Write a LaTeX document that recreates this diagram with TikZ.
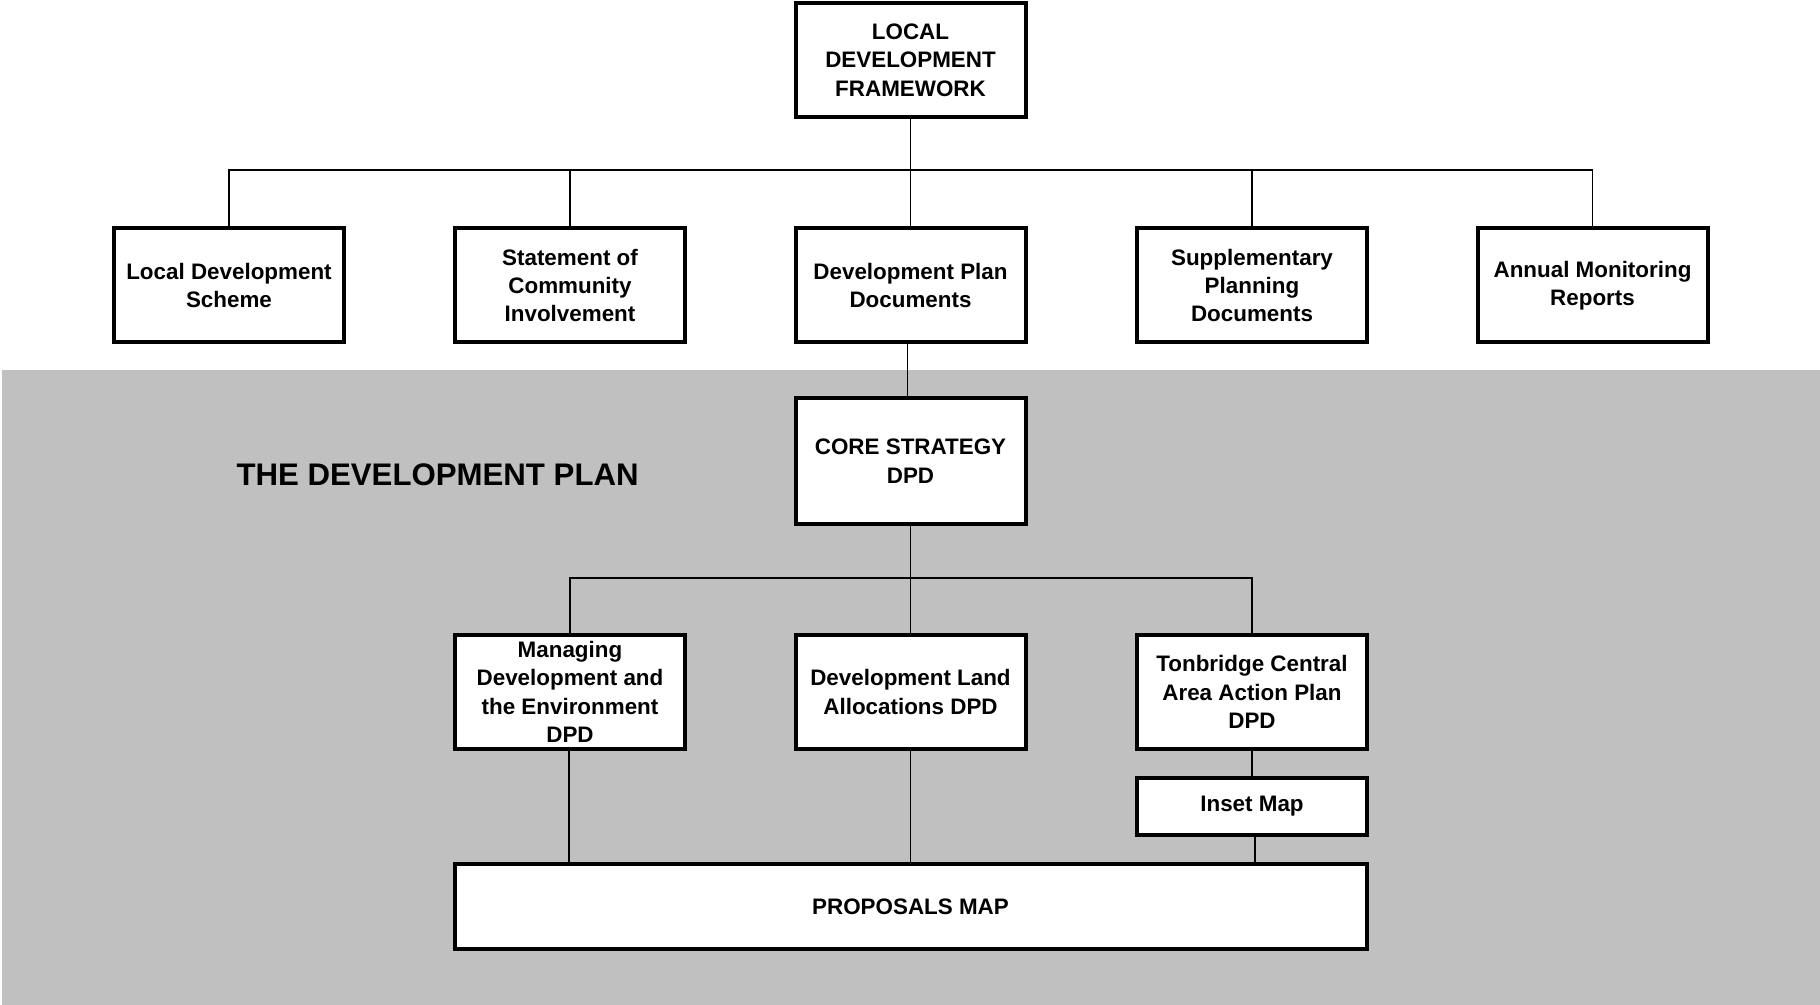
\documentclass[tikz,border=0pt]{standalone}
\usepackage{fontspec}
\setmainfont{Liberation Sans}
\begin{document}
\begin{tikzpicture}[x=0.5pt,y=-0.5pt,
  box/.style={draw=black, line width=2pt, fill=white, inner sep=0pt, align=center,
    minimum width=115pt, minimum height=57pt,
    font=\fontsize{11.2}{14.2}\selectfont\bfseries},
  conn/.style={draw=black, line width=0.7pt}]
\useasboundingbox (0,0) rectangle (1820,1005);
\fill[white] (0,0) rectangle (1820,1005);
\fill[fill={rgb,255:red,192;green,192;blue,192}] (2,370) rectangle (1820,1005);

\node[box] (ldf) at (910.5,60) {LOCAL\\DEVELOPMENT\\FRAMEWORK};

\node[box] (lds) at (229,285.5) {Local Development\\Scheme};
\node[box] (sci) at (570,285.5) {Statement of\\Community\\Involvement};
\node[box] (dpd) at (910.5,285.5) {Development Plan\\Documents};
\node[box] (spd) at (1252,285.5) {Supplementary\\Planning\\Documents};
\node[box] (amr) at (1592.5,285.5) {Annual Monitoring\\Reports};

\node[box, minimum height=62.5pt] (core) at (910.5,461) {CORE STRATEGY\\DPD};

\node[font=\fontsize{15.6}{18}\selectfont\bfseries] (title) at (437.6,474.5) {THE DEVELOPMENT PLAN};

\node[box] (mde) at (570,692) {Managing\\Development and\\the Environment\\DPD};
\node[box] (dla) at (910.5,692) {Development Land\\Allocations DPD};
\node[box] (tca) at (1252,692) {Tonbridge Central\\Area Action Plan\\DPD};

\node[box, minimum height=28.5pt] (inset) at (1252,806) {Inset Map};
\node[box, minimum width=456pt, minimum height=42.5pt] (pm) at (910.5,906.5) {PROPOSALS MAP};

% top bus
\coordinate (bus1) at (910.5,170);
\draw[conn] (ldf.south) -- (bus1);
\draw[conn] (lds.north) |- (bus1) -| (amr.north);
\draw[conn] (sci.north) -- (sci.north |- bus1);
\draw[conn] (dpd.north) -- (bus1);
\draw[conn] (spd.north) -- (spd.north |- bus1);

% dpd to core
\draw[conn] ([xshift=-1.4pt]dpd.south) -- ([xshift=-1.4pt]core.north);

% lower bus
\coordinate (bus2) at (910.5,578);
\draw[conn] (core.south) -- (bus2);
\draw[conn] (mde.north) |- (bus2) -| (tca.north);
\draw[conn] (dla.north) -- (bus2);

% to proposals map
\draw[conn] ([xshift=-0.6pt]mde.south) -- ([xshift=-0.6pt]mde.south |- pm.north);
\draw[conn] (dla.south) -- (pm.north);
\draw[conn] (tca.south) -- (inset.north);
\draw[conn] ([xshift=1.5pt]inset.south) -- ([xshift=1.5pt]inset.south |- pm.north);
\end{tikzpicture}
\end{document}
